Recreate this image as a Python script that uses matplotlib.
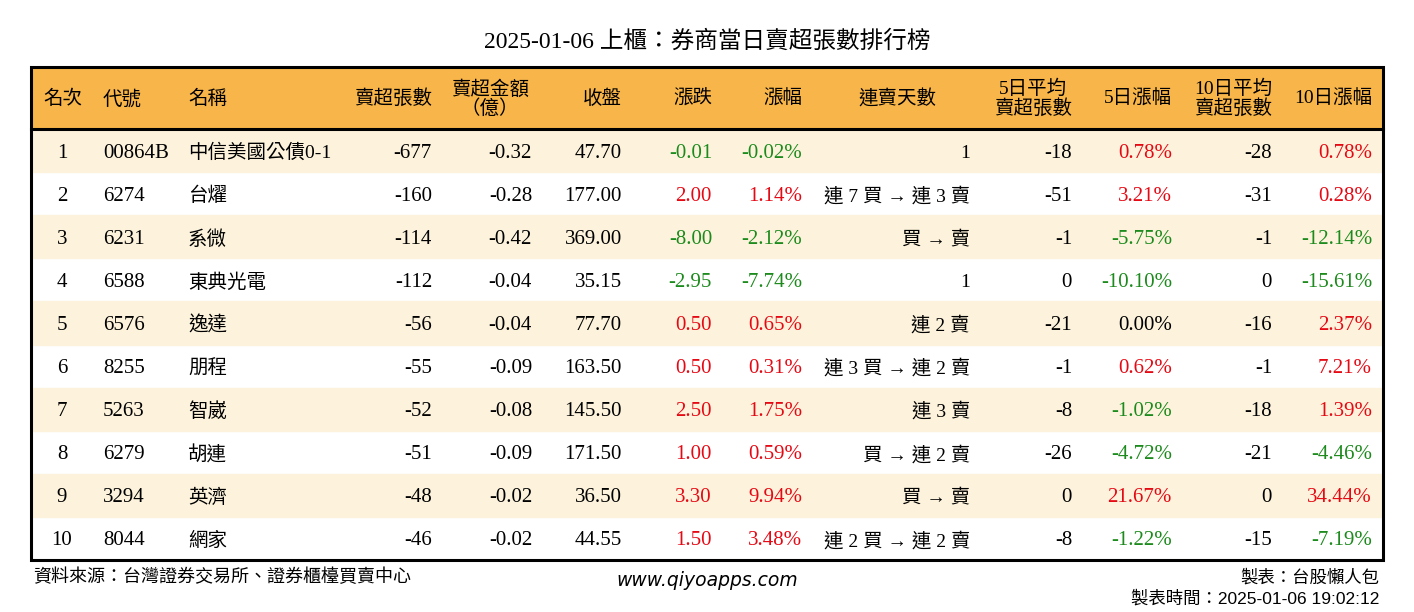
import matplotlib
matplotlib.use("Agg")
import matplotlib.pyplot as plt
from matplotlib.patches import Rectangle

plt.rcParams['font.family'] = ['Liberation Serif', 'Noto Sans CJK TC', 'DejaVu Sans']

title = "2025-01-06 上櫃：券商當日賣超張數排行榜"

headers = ["名次", "代號", "名稱", "賣超張數", "賣超金額\n（億）", "收盤", "漲跌", "漲幅",
           "連賣天數", "5日平均\n賣超張數", "5日漲幅", "10日平均\n賣超張數", "10日漲幅"]

ranks = [1, 2, 3, 4, 5, 6, 7, 8, 9, 10]
codes = ["00864B", "6274", "6231", "6588", "6576", "8255", "5263", "6279", "3294", "8044"]
names = ["中信美國公債0-1", "台燿", "系微", "東典光電", "逸達", "朋程", "智崴", "胡連", "英濟", "網家"]
sell_lots = [-677, -160, -114, -112, -56, -55, -52, -51, -48, -46]
sell_amt = [-0.32, -0.28, -0.42, -0.04, -0.04, -0.09, -0.08, -0.09, -0.02, -0.02]
close = [47.70, 177.00, 369.00, 35.15, 77.70, 163.50, 145.50, 171.50, 36.50, 44.55]
change = [-0.01, 2.00, -8.00, -2.95, 0.50, 0.50, 2.50, 1.00, 3.30, 1.50]
pct = [-0.02, 1.14, -2.12, -7.74, 0.65, 0.31, 1.75, 0.59, 9.94, 3.48]
streak = ["1", "連 7 買 → 連 3 賣", "買 → 賣", "1", "連 2 賣", "連 3 買 → 連 2 賣",
          "連 3 賣", "買 → 連 2 賣", "買 → 賣", "連 2 買 → 連 2 賣"]
avg5 = [-18, -51, -1, 0, -21, -1, -8, -26, 0, -8]
pct5 = [0.78, 3.21, -5.75, -10.10, 0.00, 0.62, -1.02, -4.72, 21.67, -1.22]
avg10 = [-28, -31, -1, 0, -16, -1, -18, -21, 0, -15]
pct10 = [0.78, 0.28, -12.14, -15.61, 2.37, 7.21, 1.39, -4.46, 34.44, -7.19]

# layout (pixels)
W, H = 1414, 612
left, right, top, head_bot, bottom = 31, 1383, 67, 129, 560
# (x, ha) for each column
cols = [(62, 'center'), (103, 'left'), (188, 'left'), (432, 'right'), (532, 'right'),
        (622, 'right'), (712, 'right'), (802, 'right'), (970, 'right'), (1072, 'right'),
        (1172, 'right'), (1272, 'right'), (1372, 'right')]
head_pos = [(43, 'left'), (103, 'left'), (188, 'left'), (432, 'right'), (490, 'center'),
            (622, 'right'), (712, 'right'), (802, 'right'), (897, 'center'), (1072, 'right'),
            (1172, 'right'), (1272, 'right'), (1372, 'right')]

RED = "#e50914"
GREEN = "#1c8a1c"
HEAD = "#f8b549"
CREAM = "#fdf3dc"


def col_of(v):
    if v > 0:
        return RED
    if v < 0:
        return GREEN
    return "black"


fig = plt.figure(figsize=(W / 100, H / 100), dpi=100)
ax = fig.add_axes([0, 0, 1, 1])
ax.set_xlim(0, W)
ax.set_ylim(H, 0)
ax.axis('off')

fig.text(0.5, 1 - 42 / H, title, ha='center', va='center', fontsize=17)

ax.add_patch(Rectangle((left, top), right - left, head_bot - top, color=HEAD, zorder=0))
n = len(ranks)
rh = (bottom - head_bot) / n
for i in range(n):
    y0 = head_bot + i * rh
    if i % 2 == 0:
        ax.add_patch(Rectangle((left, y0), right - left, rh, color=CREAM, zorder=0))

for (x, ha), h in zip(head_pos, headers):
    ax.text(x, (top + head_bot) / 2 + 1, h, ha=ha, va='center', fontsize=14,
            multialignment='center', linespacing=1.05)

for i in range(n):
    y = head_bot + (i + 0.5) * rh + 2.5
    cells = [
        (str(ranks[i]), "black"),
        (codes[i], "black"),
        (names[i], "black"),
        (f"{sell_lots[i]}", "black"),
        (f"{sell_amt[i]:.2f}", "black"),
        (f"{close[i]:.2f}", "black"),
        (f"{change[i]:.2f}", col_of(change[i])),
        (f"{pct[i]:.2f}%", col_of(pct[i])),
        (streak[i], "black"),
        (f"{avg5[i]}", "black"),
        (f"{pct5[i]:.2f}%", col_of(pct5[i])),
        (f"{avg10[i]}", "black"),
        (f"{pct10[i]:.2f}%", col_of(pct10[i])),
    ]
    for j, ((x, ha), (s, c)) in enumerate(zip(cols, cells)):
        fs = 14 if j in (2, 8) else 15
        ax.text(x, y, s, ha=ha, va='center', fontsize=fs, color=c)

# borders
ax.add_patch(Rectangle((left, top), right - left, bottom - top, fill=False,
                       edgecolor='black', linewidth=2.2, zorder=3))
ax.plot([left, right], [head_bot, head_bot], color='black', linewidth=2.2, zorder=3)

# footer
ax.text(33, 577, "資料來源：台灣證券交易所、證券櫃檯買賣中心", ha='left', va='center',
        fontsize=13)
ax.text(707, 580, "www.qiyoapps.com", ha='center', va='center', fontsize=13.5,
        style='italic', family=['DejaVu Sans'])
ax.text(1379, 577, "製表：台股懶人包", ha='right', va='center', fontsize=12.5,
        family=['Liberation Sans', 'Noto Sans CJK TC'])
ax.text(1379, 598, "製表時間：2025-01-06 19:02:12", ha='right', va='center', fontsize=12.5,
        family=['Liberation Sans', 'Noto Sans CJK TC'])

fig.savefig("out.png", dpi=100)
